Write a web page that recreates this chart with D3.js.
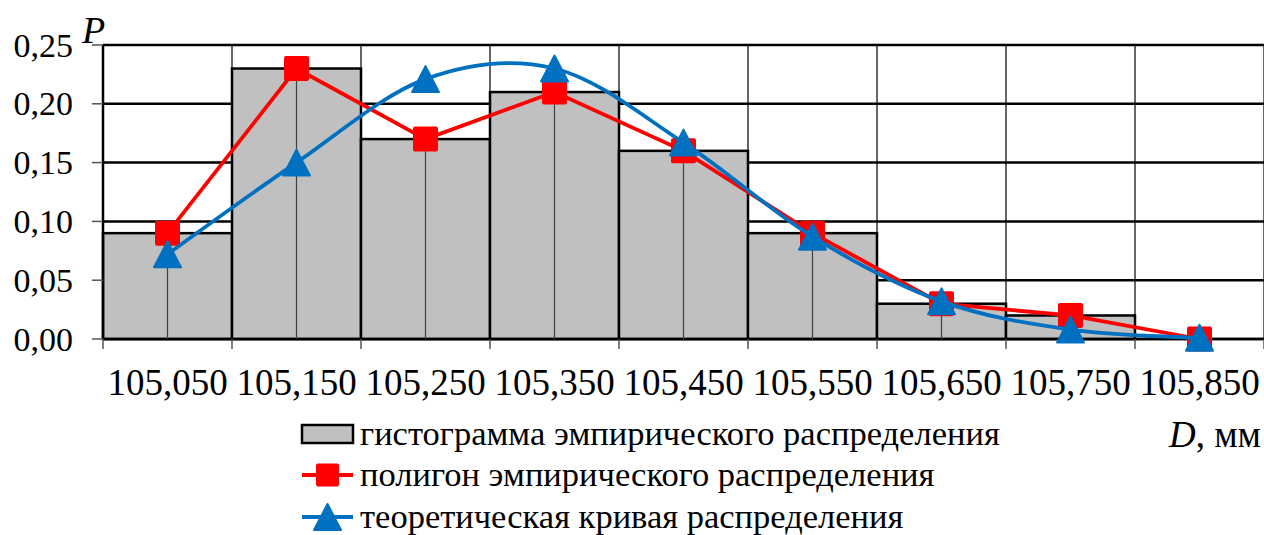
<!DOCTYPE html>
<html>
<head>
<meta charset="utf-8">
<script src="https://cdn.jsdelivr.net/npm/d3@7"></script>
<style>
  html, body { margin: 0; padding: 0; background: #fff; }
  svg { display: block; }
</style>
</head>
<body>
<svg id="chart" width="1264" height="535"></svg>
<script>
// Interval midpoints, mm
const categories = ["105,050", "105,150", "105,250", "105,350", "105,450", "105,550", "105,650", "105,750", "105,850"];
// Empirical relative frequencies (histogram bars and polygon)
const histogram = [0.09, 0.23, 0.17, 0.21, 0.16, 0.09, 0.03, 0.02, 0.00];
const polygon   = [0.09, 0.23, 0.17, 0.21, 0.16, 0.09, 0.03, 0.02, 0.00];
// Theoretical (normal) probabilities
const theory    = [0.072, 0.150, 0.221, 0.230, 0.167, 0.087, 0.032, 0.008, 0.001];
const yTicks    = [0, 0.05, 0.10, 0.15, 0.20, 0.25];
const legendLabels = [
  "гистограмма эмпирического распределения",
  "полигон эмпирического распределения",
  "теоретическая кривая распределения"
];

const RED = "#ff0000", BLUE = "#0070c0", GRAY = "#c0c0c0";
const FONT = "'Liberation Serif', 'Times New Roman', serif";

const svg = d3.select("#chart");
const plotL = 103, plotR = 1264, plotT = 45, plotB = 339;

const x = d3.scaleBand().domain(categories).range([plotL, plotR]).padding(0);
const y = d3.scaleLinear().domain([0, 0.25]).range([plotB, plotT]);
const cx = c => x(c) + x.bandwidth() / 2;
const fmt = v => d3.format(".2f")(v).replace(".", ",");

// vertical grid at interval boundaries
const edges = categories.map(c => x(c)).concat([plotR]);
svg.append("g").selectAll("line").data(edges).join("line")
  .attr("x1", d => d).attr("x2", d => d)
  .attr("y1", plotT).attr("y2", plotB)
  .attr("stroke", "#000").attr("stroke-width", 1.2);

// horizontal grid
svg.append("g").selectAll("line").data(yTicks).join("line")
  .attr("x1", plotL).attr("x2", plotR + 2)
  .attr("y1", d => y(d)).attr("y2", d => y(d))
  .attr("stroke", "#000").attr("stroke-width", 2.5);

// histogram bars
svg.append("g").selectAll("rect").data(histogram).join("rect")
  .attr("x", (d, i) => x(categories[i]))
  .attr("width", x.bandwidth())
  .attr("y", d => y(d))
  .attr("height", d => plotB - y(d))
  .attr("fill", GRAY)
  .attr("stroke", "#000").attr("stroke-width", 2.5);

// axis lines
svg.append("line").attr("x1", plotL).attr("x2", plotL).attr("y1", plotT).attr("y2", plotB)
  .attr("stroke", "#000").attr("stroke-width", 2.5);
svg.append("line").attr("x1", plotL).attr("x2", plotR + 2).attr("y1", plotB).attr("y2", plotB)
  .attr("stroke", "#000").attr("stroke-width", 2.5);

// y axis ticks and labels
const yAxis = svg.append("g");
yAxis.selectAll("line").data(yTicks).join("line")
  .attr("x1", plotL - 11).attr("x2", plotL)
  .attr("y1", d => y(d)).attr("y2", d => y(d))
  .attr("stroke", "#555").attr("stroke-width", 1.5);
yAxis.selectAll("text").data(yTicks).join("text")
  .attr("x", 73).attr("y", d => y(d) + 11.5)
  .attr("text-anchor", "end")
  .attr("font-family", FONT).attr("font-size", 34)
  .text(fmt);

// x axis ticks and labels
const xAxis = svg.append("g");
xAxis.selectAll("line").data(edges).join("line")
  .attr("x1", d => d).attr("x2", d => d)
  .attr("y1", plotB).attr("y2", plotB + 10)
  .attr("stroke", "#555").attr("stroke-width", 1.5);
xAxis.selectAll("text").data(categories).join("text")
  .attr("x", d => cx(d)).attr("y", 395)
  .attr("text-anchor", "middle")
  .attr("font-family", FONT).attr("font-size", 37)
  .text(d => d);

// drop lines from polygon points
svg.append("g").selectAll("line").data(polygon).join("line")
  .attr("x1", (d, i) => cx(categories[i])).attr("x2", (d, i) => cx(categories[i]))
  .attr("y1", d => y(d)).attr("y2", plotB)
  .attr("stroke", "#404040").attr("stroke-width", 1.2);

// polygon
const poly = polygon.map((v, i) => [cx(categories[i]), y(v)]);
svg.append("path").attr("d", d3.line()(poly))
  .attr("fill", "none").attr("stroke", RED).attr("stroke-width", 3.8);
const sq = 25;
svg.append("g").selectAll("rect").data(poly).join("rect")
  .attr("x", d => d[0] - sq / 2).attr("y", d => d[1] - sq / 2)
  .attr("width", sq).attr("height", sq).attr("rx", 2)
  .attr("fill", RED);

// theoretical curve
const theo = theory.map((v, i) => [cx(categories[i]), y(v)]);
svg.append("path").attr("d", d3.line().curve(d3.curveCardinal.tension(0))(theo))
  .attr("fill", "none").attr("stroke", BLUE).attr("stroke-width", 3.8);
const tri = (px, py, w, h) => `M${px},${py - h / 2}L${px + w / 2},${py + h / 2}L${px - w / 2},${py + h / 2}Z`;
svg.append("g").selectAll("path").data(theo).join("path")
  .attr("d", d => tri(d[0], d[1], 27, 26))
  .attr("fill", BLUE).attr("stroke", BLUE).attr("stroke-width", 2).attr("stroke-linejoin", "round");

// axis titles
svg.append("text").attr("x", 82).attr("y", 43)
  .attr("font-family", FONT).attr("font-size", 38).attr("font-style", "italic").text("P");
const dt = svg.append("text").attr("x", 1261).attr("y", 447).attr("text-anchor", "end")
  .attr("font-family", FONT).attr("font-size", 37);
dt.append("tspan").attr("font-style", "italic").text("D");
dt.append("tspan").text(", мм");

// legend
const lg = svg.append("g");
const lx0 = 302, lx1 = 353, rowY = [434, 475, 517];
lg.append("rect").attr("x", lx0).attr("y", rowY[0] - 9).attr("width", lx1 - lx0).attr("height", 18)
  .attr("fill", GRAY).attr("stroke", "#000").attr("stroke-width", 2.5);
lg.append("line").attr("x1", lx0).attr("x2", lx1).attr("y1", rowY[1]).attr("y2", rowY[1])
  .attr("stroke", RED).attr("stroke-width", 3.8);
lg.append("rect").attr("x", (lx0 + lx1) / 2 - 11.5).attr("y", rowY[1] - 11.5)
  .attr("width", 23).attr("height", 23).attr("rx", 2).attr("fill", RED);
lg.append("line").attr("x1", lx0).attr("x2", lx1).attr("y1", rowY[2]).attr("y2", rowY[2])
  .attr("stroke", BLUE).attr("stroke-width", 3.8);
lg.append("path").attr("d", tri((lx0 + lx1) / 2, rowY[2], 27, 26))
  .attr("fill", BLUE).attr("stroke", BLUE).attr("stroke-width", 2).attr("stroke-linejoin", "round");
lg.selectAll("text").data(legendLabels).join("text")
  .attr("x", 360).attr("y", (d, i) => rowY[i] + 11)
  .attr("font-family", FONT).attr("font-size", 34.5)
  .text(d => d);
</script>
</body>
</html>
